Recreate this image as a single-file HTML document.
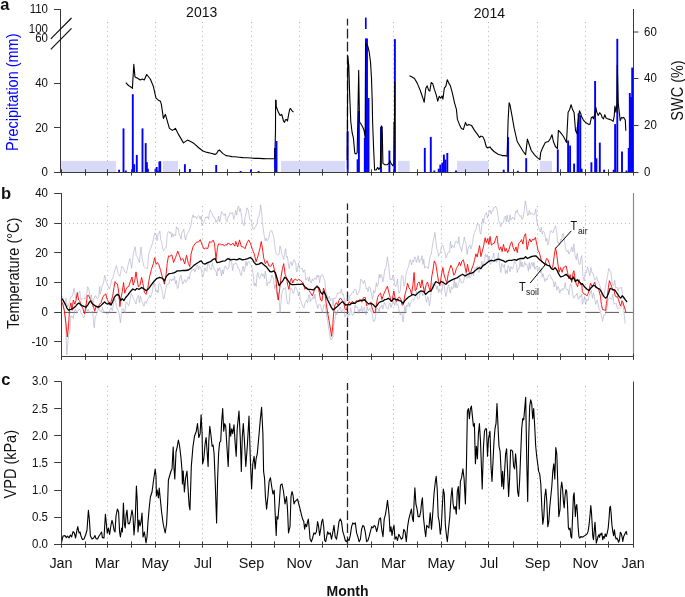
<!DOCTYPE html>
<html><head><meta charset="utf-8"><style>html,body{margin:0;padding:0;background:#fff;overflow:hidden}svg{display:block;will-change:transform}text{font-family:"Liberation Sans",sans-serif}</style></head>
<body><svg width="685" height="597" viewBox="0 0 685 597" font-family="Liberation Sans, sans-serif"><line x1="107.5" y1="22" x2="107.5" y2="172" stroke="#b4b2a2" stroke-width="1" stroke-dasharray="1 3.6"/><line x1="155.5" y1="22" x2="155.5" y2="172" stroke="#b4b2a2" stroke-width="1" stroke-dasharray="1 3.6"/><line x1="202.5" y1="22" x2="202.5" y2="172" stroke="#b4b2a2" stroke-width="1" stroke-dasharray="1 3.6"/><line x1="251.5" y1="22" x2="251.5" y2="172" stroke="#b4b2a2" stroke-width="1" stroke-dasharray="1 3.6"/><line x1="299.5" y1="22" x2="299.5" y2="172" stroke="#b4b2a2" stroke-width="1" stroke-dasharray="1 3.6"/><line x1="393.5" y1="22" x2="393.5" y2="172" stroke="#b4b2a2" stroke-width="1" stroke-dasharray="1 3.6"/><line x1="441.5" y1="22" x2="441.5" y2="172" stroke="#b4b2a2" stroke-width="1" stroke-dasharray="1 3.6"/><line x1="488.5" y1="22" x2="488.5" y2="172" stroke="#b4b2a2" stroke-width="1" stroke-dasharray="1 3.6"/><line x1="537.5" y1="22" x2="537.5" y2="172" stroke="#b4b2a2" stroke-width="1" stroke-dasharray="1 3.6"/><line x1="585.5" y1="22" x2="585.5" y2="172" stroke="#b4b2a2" stroke-width="1" stroke-dasharray="1 3.6"/><rect x="61" y="160.9" width="55.099999999999994" height="11.599999999999994" fill="#d8d8f9"/><rect x="163" y="160.9" width="15" height="11.599999999999994" fill="#d8d8f9"/><rect x="281" y="160.9" width="64.10000000000002" height="11.599999999999994" fill="#d8d8f9"/><rect x="398" y="160.9" width="11.699999999999989" height="11.599999999999994" fill="#d8d8f9"/><rect x="457" y="160.9" width="31.600000000000023" height="11.599999999999994" fill="#d8d8f9"/><rect x="539.9" y="160.9" width="12.100000000000023" height="11.599999999999994" fill="#d8d8f9"/><line x1="347.5" y1="18.8" x2="347.5" y2="172" stroke="#222" stroke-width="1.3" stroke-dasharray="9.6 3.4" stroke-dashoffset="3"/><line x1="119.1" y1="172.5" x2="119.1" y2="169.7" stroke="#0000ff" stroke-width="1.9"/><line x1="123.5" y1="172.5" x2="123.5" y2="128.4" stroke="#0000ff" stroke-width="1.9"/><line x1="125.8" y1="172.5" x2="125.8" y2="170.5" stroke="#0000ff" stroke-width="1.9"/><line x1="132.8" y1="172.5" x2="132.8" y2="94.2" stroke="#0000ff" stroke-width="1.9"/><line x1="134.2" y1="172.5" x2="134.2" y2="164.2" stroke="#0000ff" stroke-width="1.9"/><line x1="136.8" y1="172.5" x2="136.8" y2="155" stroke="#0000ff" stroke-width="1.9"/><line x1="142.5" y1="172.5" x2="142.5" y2="128.4" stroke="#0000ff" stroke-width="1.9"/><line x1="145.7" y1="172.5" x2="145.7" y2="143.1" stroke="#0000ff" stroke-width="1.9"/><line x1="146.9" y1="172.5" x2="146.9" y2="162.2" stroke="#0000ff" stroke-width="1.9"/><line x1="147.9" y1="172.5" x2="147.9" y2="168.7" stroke="#0000ff" stroke-width="1.9"/><line x1="155.5" y1="172.5" x2="155.5" y2="168.7" stroke="#0000ff" stroke-width="1.9"/><line x1="156.7" y1="172.5" x2="156.7" y2="167" stroke="#0000ff" stroke-width="1.9"/><line x1="157.7" y1="172.5" x2="157.7" y2="170.7" stroke="#0000ff" stroke-width="1.9"/><line x1="159.4" y1="172.5" x2="159.4" y2="161.6" stroke="#0000ff" stroke-width="1.9"/><line x1="160.2" y1="172.5" x2="160.2" y2="161.2" stroke="#0000ff" stroke-width="1.9"/><line x1="184.9" y1="172.5" x2="184.9" y2="164.2" stroke="#0000ff" stroke-width="1.9"/><line x1="189.9" y1="172.5" x2="189.9" y2="169" stroke="#0000ff" stroke-width="1.9"/><line x1="216.2" y1="172.5" x2="216.2" y2="165" stroke="#0000ff" stroke-width="1.9"/><line x1="240.6" y1="172.5" x2="240.6" y2="171" stroke="#0000ff" stroke-width="1.9"/><line x1="251" y1="172.5" x2="251" y2="169.6" stroke="#0000ff" stroke-width="1.9"/><line x1="258.6" y1="172.5" x2="258.6" y2="171" stroke="#0000ff" stroke-width="1.9"/><line x1="275" y1="172.5" x2="275" y2="148" stroke="#0000ff" stroke-width="1.9"/><line x1="276.5" y1="172.5" x2="276.5" y2="141" stroke="#0000ff" stroke-width="1.9"/><line x1="347.7" y1="172.5" x2="347.7" y2="131.2" stroke="#0000ff" stroke-width="1.9"/><line x1="357.6" y1="172.5" x2="357.6" y2="159.3" stroke="#0000ff" stroke-width="1.9"/><line x1="358.9" y1="172.5" x2="358.9" y2="111" stroke="#0000ff" stroke-width="1.9"/><line x1="364.8" y1="172.5" x2="364.8" y2="138" stroke="#0000ff" stroke-width="1.9"/><line x1="365.9" y1="172.5" x2="365.9" y2="38.5" stroke="#0000ff" stroke-width="1.9"/><line x1="367.0" y1="172.5" x2="367.0" y2="38.5" stroke="#0000ff" stroke-width="1.9"/><line x1="368.5" y1="172.5" x2="368.5" y2="98" stroke="#0000ff" stroke-width="1.9"/><line x1="381" y1="172.5" x2="381" y2="127" stroke="#0000ff" stroke-width="1.9"/><line x1="389.4" y1="172.5" x2="389.4" y2="150.6" stroke="#0000ff" stroke-width="1.9"/><line x1="394.4" y1="172.5" x2="394.4" y2="121.8" stroke="#0000ff" stroke-width="1.9"/><line x1="394.9" y1="172.5" x2="394.9" y2="39.1" stroke="#0000ff" stroke-width="1.9"/><line x1="424.8" y1="172.5" x2="424.8" y2="147.9" stroke="#0000ff" stroke-width="1.9"/><line x1="430.8" y1="172.5" x2="430.8" y2="136.9" stroke="#0000ff" stroke-width="1.9"/><line x1="434.3" y1="172.5" x2="434.3" y2="170.5" stroke="#0000ff" stroke-width="1.9"/><line x1="438.7" y1="172.5" x2="438.7" y2="168.7" stroke="#0000ff" stroke-width="1.9"/><line x1="440.3" y1="172.5" x2="440.3" y2="164.6" stroke="#0000ff" stroke-width="1.9"/><line x1="442.3" y1="172.5" x2="442.3" y2="162.6" stroke="#0000ff" stroke-width="1.9"/><line x1="443.9" y1="172.5" x2="443.9" y2="154.6" stroke="#0000ff" stroke-width="1.9"/><line x1="445.3" y1="172.5" x2="445.3" y2="159.6" stroke="#0000ff" stroke-width="1.9"/><line x1="447.3" y1="172.5" x2="447.3" y2="153" stroke="#0000ff" stroke-width="1.9"/><line x1="456" y1="172.5" x2="456" y2="170.5" stroke="#0000ff" stroke-width="1.9"/><line x1="503.7" y1="172.5" x2="503.7" y2="169.7" stroke="#0000ff" stroke-width="1.9"/><line x1="508.1" y1="172.5" x2="508.1" y2="137.1" stroke="#0000ff" stroke-width="1.9"/><line x1="517.8" y1="172.5" x2="517.8" y2="170.8" stroke="#0000ff" stroke-width="1.9"/><line x1="526.2" y1="172.5" x2="526.2" y2="158.2" stroke="#0000ff" stroke-width="1.9"/><line x1="557.8" y1="172.5" x2="557.8" y2="149.5" stroke="#0000ff" stroke-width="1.9"/><line x1="568.1" y1="172.5" x2="568.1" y2="140.5" stroke="#0000ff" stroke-width="1.9"/><line x1="570.1" y1="172.5" x2="570.1" y2="145.5" stroke="#0000ff" stroke-width="1.9"/><line x1="574.1" y1="172.5" x2="574.1" y2="163.6" stroke="#0000ff" stroke-width="1.9"/><line x1="577.6" y1="172.5" x2="577.6" y2="127" stroke="#0000ff" stroke-width="1.9"/><line x1="578.6" y1="172.5" x2="578.6" y2="113.3" stroke="#0000ff" stroke-width="1.9"/><line x1="580.3" y1="172.5" x2="580.3" y2="115.3" stroke="#0000ff" stroke-width="1.9"/><line x1="581.6" y1="172.5" x2="581.6" y2="168.7" stroke="#0000ff" stroke-width="1.9"/><line x1="591.4" y1="172.5" x2="591.4" y2="162.3" stroke="#0000ff" stroke-width="1.9"/><line x1="595.1" y1="172.5" x2="595.1" y2="81" stroke="#0000ff" stroke-width="1.9"/><line x1="596.4" y1="172.5" x2="596.4" y2="158.3" stroke="#0000ff" stroke-width="1.9"/><line x1="599.8" y1="172.5" x2="599.8" y2="142.6" stroke="#0000ff" stroke-width="1.9"/><line x1="604.1" y1="172.5" x2="604.1" y2="169.7" stroke="#0000ff" stroke-width="1.9"/><line x1="613.7" y1="172.5" x2="613.7" y2="169.7" stroke="#0000ff" stroke-width="1.9"/><line x1="615.1" y1="172.5" x2="615.1" y2="124.1" stroke="#0000ff" stroke-width="1.9"/><line x1="617.3" y1="172.5" x2="617.3" y2="38.8" stroke="#0000ff" stroke-width="1.9"/><line x1="622" y1="172.5" x2="622" y2="151.6" stroke="#0000ff" stroke-width="1.9"/><line x1="626.5" y1="172.5" x2="626.5" y2="170.5" stroke="#0000ff" stroke-width="1.9"/><line x1="628.7" y1="172.5" x2="628.7" y2="148" stroke="#0000ff" stroke-width="1.9"/><line x1="629.8" y1="172.5" x2="629.8" y2="93" stroke="#0000ff" stroke-width="1.9"/><line x1="631.0" y1="172.5" x2="631.0" y2="97" stroke="#0000ff" stroke-width="1.9"/><line x1="632.2" y1="172.5" x2="632.2" y2="67.6" stroke="#0000ff" stroke-width="1.9"/><line x1="365.8" y1="17.6" x2="365.8" y2="29.0" stroke="#0000ff" stroke-width="1.7"/><polyline points="125.8,82.7 128.5,85.5 131.2,87.2 132.4,88.4 133.8,64.4 135.0,77.0 137.2,78.0 140.2,80.0 142.3,79.0 144.3,80.0 146.7,74.5 150.3,79.0 153.3,86.2 156.0,98.2 158.4,100.2 160.4,101.2 161.4,104.7 163.4,118.4 165.4,114.3 169.4,128.4 172.4,130.4 175.5,128.4 178.5,134.4 183.5,142.9 187.5,140.1 192.6,142.5 195.0,144.4 199.0,148.0 203.0,151.0 207.0,152.4 211.0,153.2 215.0,154.4 216.6,153.6 218.0,151.0 219.4,150.0 221.0,151.6 223.0,153.6 226.0,155.6 229.0,156.0 232.0,156.6 235.0,156.8 239.0,157.2 243.0,157.6 247.0,157.8 251.0,158.0 255.0,158.4 259.0,158.4 263.0,158.6 267.0,158.8 271.0,158.8 274.8,158.8 275.5,130.0 275.6,100.1 276.1,100.5 276.3,106.8 277.6,110.2 278.8,113.1 280.1,115.6 281.6,114.3 282.2,116.0 283.5,121.0 284.5,122.3 285.5,119.8 286.6,119.4 287.5,121.0 288.5,115.2 289.7,109.3 290.6,108.5 291.8,110.6 293.5,112.2" fill="none" stroke="#000" stroke-width="1.1" stroke-linejoin="round"/><polyline points="347.2,160.0 347.8,56.0 348.8,66.0 349.7,95.4 350.8,121.8 352.1,132.5 353.4,137.9 354.8,153.3 356.1,154.0 357.2,152.6 358.7,70.3 359.5,121.8 361.0,124.0 362.8,127.2 364.0,130.0 365.2,137.9 365.6,43.7 367.8,46.2 369.2,52.0 370.5,62.0 371.5,78.4 372.2,100.0 372.6,121.8 373.6,148.6 374.6,170.0 376.2,170.0 377.6,167.4 378.9,169.4 380.3,167.4 381.3,125.8 382.2,127.0 382.9,163.4 385.0,164.7 387.0,164.7 389.0,163.4 389.9,160.7 391.0,163.4 393.0,166.0 393.9,162.0 394.5,121.8 394.8,82.0" fill="none" stroke="#000" stroke-width="1.1" stroke-linejoin="round"/><polyline points="409.5,75.7 412.1,77.1 414.5,78.5 417.2,83.1 420.2,90.2 422.6,97.2 424.2,102.3 425.8,88.2 427.2,85.8 428.6,90.2 429.8,91.2 431.2,82.5 432.7,83.7 434.3,89.2 436.3,95.2 437.7,101.2 439.3,96.2 440.7,98.2 442.0,96.0 442.9,99.2 444.3,88.2 445.9,86.2 447.3,79.7 448.8,83.1 450.4,85.8 452.4,93.2 454.4,102.3 456.4,109.3 457.4,119.4 459.4,124.4 461.4,128.4 463.4,129.4 465.5,122.4 466.9,125.4 468.9,124.4 471.5,125.4 474.5,130.4 477.5,134.4 479.5,137.5 480.9,136.1 483.0,136.9 484.6,140.5 486.2,146.5 487.6,148.0 490.0,146.9 491.0,148.5 494.0,151.5 498.1,154.2 502.1,155.6 505.1,155.6 507.1,156.2 508.1,120.4 509.1,102.7 510.1,105.3 512.1,116.3 514.2,128.4 517.2,141.5 520.2,146.5 523.2,151.5 525.6,154.6 527.4,139.1 529.2,144.5 531.3,150.5 534.3,154.6 537.3,157.6 539.9,159.6 540.7,152.6 542.3,148.5 545.3,142.5 548.4,141.5 550.4,138.5 552.0,134.8 553.4,141.5 555.4,146.5 557.4,148.5 558.4,130.4 560.4,132.4 563.5,136.5 566.5,142.5 568.1,112.3 569.5,110.0 571.1,104.7 572.5,109.3 574.1,112.7 575.5,130.4 576.9,133.4 578.1,120.4 579.5,110.7 581.0,114.3 581.3,116.1 583.4,120.1 586.0,122.8 588.7,124.4 590.0,124.1 591.4,117.4 592.7,116.8 593.4,118.8 594.7,114.7 595.8,107.4 596.8,112.1 598.1,115.4 599.8,112.7 601.2,114.7 602.1,117.4 603.5,118.8 604.8,114.7 606.1,118.1 607.5,118.8 609.5,119.4 611.5,120.1 613.2,121.4 614.2,116.1 614.9,106.0 615.9,112.1 616.9,104.0 617.3,65.0 618.2,102.7 619.1,110.7 620.2,120.8 621.6,117.4 622.6,118.1 623.6,117.4 624.5,118.8 625.3,120.1 625.8,130.8" fill="none" stroke="#000" stroke-width="1.1" stroke-linejoin="round"/><line x1="60.5" y1="9" x2="60.5" y2="172.5" stroke="#3a3a3a" stroke-width="1"/><line x1="54" y1="172.5" x2="638.5" y2="172.5" stroke="#3a3a3a" stroke-width="1"/><line x1="633.5" y1="9" x2="633.5" y2="172.5" stroke="#3a3a3a" stroke-width="1"/><line x1="54" y1="9.5" x2="60.5" y2="9.5" stroke="#3a3a3a" stroke-width="1"/><line x1="54" y1="83.5" x2="60.5" y2="83.5" stroke="#3a3a3a" stroke-width="1"/><line x1="54" y1="127.5" x2="60.5" y2="127.5" stroke="#3a3a3a" stroke-width="1"/><line x1="633.5" y1="32.0" x2="638.5" y2="32.0" stroke="#3a3a3a" stroke-width="1"/><line x1="633.5" y1="78.5" x2="638.5" y2="78.5" stroke="#3a3a3a" stroke-width="1"/><line x1="633.5" y1="125.5" x2="638.5" y2="125.5" stroke="#3a3a3a" stroke-width="1"/><line x1="61.5" y1="169.3" x2="61.5" y2="175.6" stroke="#3a3a3a" stroke-width="1"/><line x1="85.5" y1="169.3" x2="85.5" y2="175.6" stroke="#3a3a3a" stroke-width="1"/><line x1="107.5" y1="169.3" x2="107.5" y2="175.6" stroke="#3a3a3a" stroke-width="1"/><line x1="131.5" y1="169.3" x2="131.5" y2="175.6" stroke="#3a3a3a" stroke-width="1"/><line x1="155.5" y1="169.3" x2="155.5" y2="175.6" stroke="#3a3a3a" stroke-width="1"/><line x1="179.5" y1="169.3" x2="179.5" y2="175.6" stroke="#3a3a3a" stroke-width="1"/><line x1="202.5" y1="169.3" x2="202.5" y2="175.6" stroke="#3a3a3a" stroke-width="1"/><line x1="227.5" y1="169.3" x2="227.5" y2="175.6" stroke="#3a3a3a" stroke-width="1"/><line x1="251.5" y1="169.3" x2="251.5" y2="175.6" stroke="#3a3a3a" stroke-width="1"/><line x1="274.5" y1="169.3" x2="274.5" y2="175.6" stroke="#3a3a3a" stroke-width="1"/><line x1="299.5" y1="169.3" x2="299.5" y2="175.6" stroke="#3a3a3a" stroke-width="1"/><line x1="322.5" y1="169.3" x2="322.5" y2="175.6" stroke="#3a3a3a" stroke-width="1"/><line x1="347.5" y1="169.3" x2="347.5" y2="175.6" stroke="#3a3a3a" stroke-width="1"/><line x1="371.5" y1="169.3" x2="371.5" y2="175.6" stroke="#3a3a3a" stroke-width="1"/><line x1="393.5" y1="169.3" x2="393.5" y2="175.6" stroke="#3a3a3a" stroke-width="1"/><line x1="417.5" y1="169.3" x2="417.5" y2="175.6" stroke="#3a3a3a" stroke-width="1"/><line x1="441.5" y1="169.3" x2="441.5" y2="175.6" stroke="#3a3a3a" stroke-width="1"/><line x1="465.5" y1="169.3" x2="465.5" y2="175.6" stroke="#3a3a3a" stroke-width="1"/><line x1="488.5" y1="169.3" x2="488.5" y2="175.6" stroke="#3a3a3a" stroke-width="1"/><line x1="513.5" y1="169.3" x2="513.5" y2="175.6" stroke="#3a3a3a" stroke-width="1"/><line x1="537.5" y1="169.3" x2="537.5" y2="175.6" stroke="#3a3a3a" stroke-width="1"/><line x1="560.5" y1="169.3" x2="560.5" y2="175.6" stroke="#3a3a3a" stroke-width="1"/><line x1="585.5" y1="169.3" x2="585.5" y2="175.6" stroke="#3a3a3a" stroke-width="1"/><line x1="608.5" y1="169.3" x2="608.5" y2="175.6" stroke="#3a3a3a" stroke-width="1"/><line x1="633.5" y1="169.3" x2="633.5" y2="175.6" stroke="#3a3a3a" stroke-width="1"/><line x1="50.8" y1="38.9" x2="71.5" y2="18" stroke="#111" stroke-width="1.2"/><line x1="50.8" y1="49.4" x2="71.5" y2="28.4" stroke="#111" stroke-width="1.2"/><text transform="translate(48.00,13.00) scale(1.0,1.06)" font-size="11.5" text-anchor="end" fill="#111">110</text><text transform="translate(48.00,32.70) scale(1.0,1.06)" font-size="11.5" text-anchor="end" fill="#111">100</text><text transform="translate(48.00,42.30) scale(1.0,1.06)" font-size="11.5" text-anchor="end" fill="#111">60</text><text transform="translate(48.00,87.10) scale(1.0,1.06)" font-size="11.5" text-anchor="end" fill="#111">40</text><text transform="translate(48.00,131.70) scale(1.0,1.06)" font-size="11.5" text-anchor="end" fill="#111">20</text><text transform="translate(48.00,176.30) scale(1.0,1.06)" font-size="11.5" text-anchor="end" fill="#111">0</text><text transform="translate(644.00,35.60) scale(1.0,1.06)" font-size="11.5" text-anchor="start" fill="#111">60</text><text transform="translate(644.00,82.40) scale(1.0,1.06)" font-size="11.5" text-anchor="start" fill="#111">40</text><text transform="translate(644.00,129.20) scale(1.0,1.06)" font-size="11.5" text-anchor="start" fill="#111">20</text><text transform="translate(644.00,176.00) scale(1.0,1.06)" font-size="11.5" text-anchor="start" fill="#111">0</text><text x="201.7" y="17" font-size="14" text-anchor="middle" fill="#111">2013</text><text x="489.4" y="18" font-size="14" text-anchor="middle" fill="#111">2014</text><text transform="translate(17.60,92.25) rotate(-90) scale(1.0,1.12)" font-size="14.5" text-anchor="middle" fill="#0000ff">Precipitation (mm)</text><text transform="translate(683.00,90.50) rotate(-90) scale(1.0,1.12)" font-size="14.5" text-anchor="middle" fill="#111">SWC (%)</text><text transform="translate(0.20,9.70)" font-size="16.5" text-anchor="start" fill="#111" font-weight="bold">a</text><line x1="107.5" y1="206" x2="107.5" y2="357" stroke="#b4b2a2" stroke-width="1" stroke-dasharray="1 3.6"/><line x1="155.5" y1="206" x2="155.5" y2="357" stroke="#b4b2a2" stroke-width="1" stroke-dasharray="1 3.6"/><line x1="202.5" y1="206" x2="202.5" y2="357" stroke="#b4b2a2" stroke-width="1" stroke-dasharray="1 3.6"/><line x1="251.5" y1="206" x2="251.5" y2="357" stroke="#b4b2a2" stroke-width="1" stroke-dasharray="1 3.6"/><line x1="299.5" y1="206" x2="299.5" y2="357" stroke="#b4b2a2" stroke-width="1" stroke-dasharray="1 3.6"/><line x1="393.5" y1="206" x2="393.5" y2="357" stroke="#b4b2a2" stroke-width="1" stroke-dasharray="1 3.6"/><line x1="441.5" y1="206" x2="441.5" y2="357" stroke="#b4b2a2" stroke-width="1" stroke-dasharray="1 3.6"/><line x1="488.5" y1="206" x2="488.5" y2="357" stroke="#b4b2a2" stroke-width="1" stroke-dasharray="1 3.6"/><line x1="537.5" y1="206" x2="537.5" y2="357" stroke="#b4b2a2" stroke-width="1" stroke-dasharray="1 3.6"/><line x1="585.5" y1="206" x2="585.5" y2="357" stroke="#b4b2a2" stroke-width="1" stroke-dasharray="1 3.6"/><line x1="61" y1="223.3" x2="633" y2="223.3" stroke="#b4b2a2" stroke-width="1" stroke-dasharray="1 3"/><line x1="347.5" y1="203.4" x2="347.5" y2="357" stroke="#222" stroke-width="1.3" stroke-dasharray="9.6 3.4" stroke-dashoffset="3"/><line x1="61.3" y1="312.4" x2="633" y2="312.4" stroke="#555" stroke-width="1" stroke-dasharray="14 5.33" stroke-dashoffset="-2.5"/><polyline points="61.2,295.0 62.8,297.4 64.4,305.2 66.0,298.3 67.6,307.3 69.3,302.6 70.9,296.6 72.5,295.8 74.1,288.4 75.7,298.4 77.3,296.7 78.5,292.5 79.7,291.1 80.9,299.9 82.1,298.8 83.7,298.1 85.3,298.5 86.5,295.8 87.7,286.8 88.9,289.2 90.2,298.4 91.4,294.9 92.6,307.0 93.8,299.5 95.0,295.8 96.2,296.3 97.4,298.9 98.6,297.8 99.8,286.5 100.0,294.0 101.2,291.0 102.3,285.1 103.5,283.2 104.7,275.3 106.4,282.3 108.2,286.0 109.4,289.1 110.6,285.6 111.7,279.9 112.9,277.7 114.7,270.6 116.4,265.7 118.2,273.7 119.9,276.3 121.7,266.4 122.9,267.0 124.6,271.3 126.4,273.2 128.1,264.9 129.9,258.6 131.7,268.3 133.4,253.5 135.2,246.8 136.3,255.8 137.5,257.3 139.3,262.7 141.0,247.0 142.2,258.5 144.0,266.4 145.7,268.2 147.5,268.5 148.7,254.1 149.8,250.5 151.6,246.1 153.3,240.1 154.5,233.1 156.3,234.2 157.0,240.8 158.0,234.3 158.9,233.7 159.8,231.0 160.7,239.6 161.7,241.8 162.6,248.6 163.5,250.8 164.4,249.6 165.3,247.8 166.3,247.6 167.2,234.8 168.1,231.9 169.0,231.5 169.9,233.4 170.9,231.9 171.8,237.4 172.7,233.5 173.6,236.4 174.5,234.5 175.5,235.6 176.4,226.9 177.3,228.7 178.2,228.1 179.1,233.8 180.1,236.0 181.0,239.2 181.9,232.1 182.8,231.5 183.8,229.1 184.7,236.6 185.6,240.0 186.5,235.5 187.4,233.6 188.4,232.0 189.3,229.8 190.2,228.1 191.1,225.1 192.0,218.1 193.0,214.9 193.9,217.7 194.8,216.3 195.7,216.7 196.6,218.8 197.6,216.8 198.5,215.5 199.4,216.7 200.3,219.4 201.2,215.9 202.2,225.7 203.1,222.8 204.0,221.8 204.9,219.3 205.9,216.8 206.8,218.1 207.7,216.7 208.6,219.3 209.5,212.0 210.5,209.9 211.4,212.7 212.3,213.8 213.2,217.0 214.1,216.8 215.1,218.8 216.0,222.6 216.9,220.4 217.8,220.9 218.7,216.0 219.7,221.8 220.6,217.6 221.5,211.6 222.4,213.1 223.3,214.6 224.3,215.4 225.2,213.5 226.1,220.3 227.0,221.9 228.0,216.9 228.9,216.7 229.8,212.8 230.7,212.4 231.6,213.9 232.6,212.6 233.7,219.5 234.8,215.4 235.7,210.4 236.7,215.1 237.7,207.6 238.6,206.0 239.5,211.4 240.4,208.6 241.4,215.0 242.3,222.1 243.2,224.1 244.1,225.7 245.0,217.4 246.0,214.0 246.9,207.8 247.8,208.9 248.7,212.0 249.7,219.4 250.6,220.6 251.5,220.5 252.4,226.7 253.3,229.2 254.3,229.0 255.2,227.2 256.1,225.9 257.0,223.8 257.9,217.8 258.9,216.7 259.8,211.6 260.7,205.0 261.6,212.9 262.5,223.2 263.5,231.0 264.4,236.7 265.3,240.9 266.2,238.2 267.1,240.8 268.1,239.4 269.0,237.2 269.9,231.9 270.8,230.6 271.8,230.7 272.7,233.5 273.6,236.6 274.5,243.5 275.4,250.3 276.4,254.0 277.3,255.1 278.2,254.8 279.1,254.3 280.0,246.0 281.0,249.3 281.9,254.6 282.8,256.6 283.7,259.3 284.6,254.1 285.6,248.7 286.5,257.4 287.4,256.5 288.3,263.9 289.2,268.7 290.2,262.6 291.1,261.7 292.0,265.7 292.9,262.8 293.9,259.6 294.8,261.1 295.7,263.2 296.6,271.8 297.5,270.0 298.5,263.1 299.4,268.3 300.3,268.8 301.2,268.3 302.1,268.0 303.1,272.3 304.0,269.9 304.9,270.2 305.8,280.2 306.7,278.7 307.7,277.6 308.6,281.3 309.5,276.8 310.4,282.1 311.3,283.0 312.3,278.9 313.2,280.6 314.1,279.6 315.0,277.8 316.0,279.5 316.9,275.2 317.8,277.2 318.7,275.3 319.6,282.9 320.6,276.0 321.5,275.1 322.4,274.4 323.8,278.5 324.8,280.1 325.7,290.6 326.6,292.4 327.5,298.2 328.4,299.3 329.4,296.0 330.3,301.0 331.2,299.3 332.1,298.3 333.0,306.1 334.0,298.0 334.9,298.3 335.8,298.1 336.7,295.6 337.7,292.6 338.6,293.4 339.5,292.4 340.4,293.1 341.3,288.8 342.3,294.7 343.2,293.8 344.1,297.7 345.0,305.9 345.9,300.7 346.9,298.4 347.8,299.6 348.7,300.4 349.6,295.5 350.5,295.8 351.5,293.6 352.4,292.5 353.3,292.9 354.2,289.5 355.1,289.0 356.1,289.7 357.0,295.1 357.9,294.2 358.8,292.1 359.8,289.0 360.7,279.1 361.6,280.0 362.5,281.6 363.4,283.8 364.4,280.5 365.3,283.4 366.2,288.8 367.1,287.9 368.0,291.9 369.1,286.7 370.3,288.4 371.4,294.0 372.6,299.6 373.6,290.5 374.5,293.1 375.4,290.1 376.3,282.7 377.2,286.6 378.2,284.3 379.1,274.5 380.0,278.0 380.9,274.3 381.9,276.3 382.8,282.0 383.7,278.2 384.6,269.7 385.5,269.6 386.5,264.4 387.4,256.8 388.3,262.5 389.2,270.5 390.1,279.6 391.1,278.8 392.0,280.0 392.9,275.2 393.8,277.0 394.7,285.3 395.7,286.7 396.6,284.5 397.5,279.2 398.4,291.2 399.3,293.1 400.3,290.5 401.2,278.4 402.1,275.5 403.0,276.5 404.0,286.3 404.9,284.8 405.8,276.1 406.7,271.4 407.6,268.4 408.6,267.0 409.5,261.3 410.4,259.7 411.6,264.9 412.8,260.1 413.7,261.9 414.6,257.0 415.5,257.3 416.4,262.4 417.4,259.4 418.3,255.6 419.2,262.8 420.1,259.4 421.0,260.3 422.0,255.7 422.9,264.5 423.8,259.2 424.7,268.2 425.7,266.4 426.6,267.2 427.5,267.3 428.4,268.8 429.3,261.1 430.3,255.5 431.2,254.8 432.1,247.9 433.0,242.1 433.9,238.0 434.9,232.4 435.8,240.7 436.7,248.6 437.6,250.3 438.5,256.3 439.5,253.9 440.4,252.7 441.3,246.7 442.2,245.2 443.1,245.3 444.1,250.5 445.0,251.4 445.9,257.9 446.8,256.2 447.8,253.0 448.7,251.9 449.6,252.3 450.5,241.2 451.4,248.2 452.4,245.3 453.3,246.5 454.2,247.7 455.1,241.9 456.0,241.1 457.0,241.8 457.9,243.5 458.8,236.9 459.7,245.3 460.6,248.1 461.6,251.5 462.5,246.3 463.4,242.7 464.3,237.0 465.2,241.4 466.2,244.5 467.1,254.3 468.0,248.7 468.9,246.6 469.9,244.7 470.8,249.0 471.7,246.8 472.6,242.6 473.5,236.0 474.5,232.6 475.4,230.0 476.3,229.0 477.2,223.8 478.1,224.0 479.1,224.2 480.0,232.3 480.9,234.2 481.8,225.8 482.7,218.5 483.7,223.1 484.6,215.4 485.5,214.0 486.4,212.6 487.3,217.9 488.3,215.0 489.2,211.6 490.1,210.1 491.0,214.1 492.0,210.8 492.9,211.0 493.8,207.3 494.7,207.9 495.6,206.2 496.6,207.6 497.5,211.7 498.0,216.5 498.9,221.6 499.8,222.9 500.8,226.7 501.7,224.0 502.6,222.7 503.5,222.4 504.4,217.3 505.4,216.1 506.3,221.5 507.2,215.2 508.1,221.6 509.0,222.1 510.0,214.8 510.9,220.1 511.8,218.8 512.7,217.0 513.7,218.6 514.6,219.9 515.5,211.4 516.4,212.4 517.3,209.8 518.3,214.0 519.2,214.9 520.1,216.4 521.0,215.4 521.9,219.4 522.9,218.7 524.1,211.9 525.3,200.9 526.4,206.9 527.5,215.6 528.4,215.2 529.3,210.5 530.2,214.6 531.1,212.7 532.1,214.0 533.0,214.6 533.9,215.0 534.8,213.3 535.8,208.9 536.7,220.7 537.6,224.9 538.5,226.3 539.4,230.3 540.4,232.0 541.3,227.3 542.2,234.0 543.1,231.4 544.0,231.7 545.0,235.2 545.9,241.3 546.8,238.4 547.7,245.0 548.6,243.5 549.6,235.5 550.5,230.8 551.4,231.0 552.3,232.3 553.2,232.4 554.4,228.3 555.5,225.8 556.7,231.7 557.9,243.4 558.8,242.5 559.7,245.1 560.6,239.3 561.5,240.4 562.5,234.2 563.4,233.4 564.3,239.0 565.2,246.3 566.1,250.1 567.1,251.8 568.0,250.2 568.9,254.1 569.8,252.4 570.7,251.2 571.7,246.8 572.8,251.9 573.9,243.9 575.1,255.5 576.3,259.7 577.2,253.3 578.1,259.1 579.0,264.2 580.0,264.3 580.9,258.4 581.8,255.5 583.0,276.6 584.1,281.0 585.3,272.1 586.4,273.2 587.5,266.9 588.7,271.1 589.8,275.7 590.9,267.6 592.1,273.0 593.2,273.3 594.3,279.7 595.5,279.5 596.6,276.8 598.1,281.3 599.6,285.1 600.7,288.5 601.9,295.9 603.0,297.2 604.1,293.9 605.3,288.0 606.4,282.0 607.5,276.3 608.7,268.5 609.9,271.0 610.9,271.7 612.4,284.5 613.6,286.0 614.7,280.3 615.8,288.3 617.0,287.2 618.1,291.1 619.2,287.9 620.3,287.9 621.5,287.3 623.0,298.8 624.1,298.1 625.2,299.1 626.8,303.3" fill="none" stroke="#a8a8c8" stroke-width="0.6" stroke-opacity="1" stroke-linejoin="round"/><polyline points="61.2,299.1 62.8,305.0 64.4,309.4 65.7,325.9 66.8,355.0 68.5,335.6 69.7,331.8 70.9,316.0 72.1,316.2 73.3,318.4 74.5,311.5 75.7,309.1 76.8,313.3 77.8,311.5 78.9,309.8 80.0,309.3 81.0,312.9 82.1,314.2 83.7,317.9 84.9,315.0 86.1,304.6 87.2,311.3 88.3,309.3 89.4,312.5 90.4,313.1 91.5,311.5 92.6,311.0 94.2,327.7 95.4,316.1 96.6,314.8 97.8,311.2 99.0,308.4 100.2,311.2 101.4,312.1 102.5,307.5 103.6,313.0 104.6,311.7 106.2,314.0 107.4,314.1 108.6,313.7 109.8,310.4 111.1,307.6 112.3,310.7 113.5,303.8 114.7,298.9 115.9,302.6 117.1,309.1 118.3,309.8 119.3,314.6 120.4,322.7 121.3,314.2 122.3,308.8 123.5,309.0 124.7,312.7 126.3,301.6 127.5,303.6 128.7,305.7 129.9,300.4 131.2,293.4 132.4,295.8 133.6,299.2 134.8,301.1 136.0,304.0 137.2,297.4 138.4,295.4 139.5,302.7 140.5,296.1 141.6,300.6 142.8,303.0 144.0,306.3 145.1,301.6 146.1,303.3 147.8,299.0 148.8,297.6 149.7,295.3 150.6,297.4 151.5,294.0 152.4,291.8 153.4,283.5 154.3,283.0 155.2,288.4 156.1,292.0 157.0,290.0 158.0,292.9 158.9,283.9 159.8,283.7 160.7,284.9 161.7,288.6 162.6,293.4 163.5,299.1 164.4,297.2 165.3,291.0 166.3,286.5 167.2,284.9 168.1,283.9 169.0,283.8 169.9,279.3 170.9,279.3 171.8,281.0 172.7,278.8 173.6,280.3 174.5,276.3 175.5,283.6 176.4,280.5 177.3,288.5 178.2,287.9 179.1,281.7 180.1,277.1 181.0,275.1 181.9,281.0 182.8,284.0 183.8,281.2 184.7,279.6 185.6,282.5 186.5,281.8 187.4,279.1 188.4,276.7 189.3,279.2 190.2,272.9 191.1,271.9 192.0,269.6 193.0,270.4 193.9,268.8 194.8,272.2 195.7,269.8 196.6,266.2 197.6,264.9 198.5,270.0 199.4,266.3 200.3,267.0 201.2,268.7 202.2,277.3 203.1,276.5 204.0,271.7 204.9,267.8 205.9,270.3 206.8,271.4 207.7,263.8 208.6,263.3 209.5,267.3 210.5,269.3 211.4,269.5 212.3,263.0 213.2,266.2 214.1,269.1 215.1,270.3 216.0,271.0 216.9,276.1 217.8,268.3 218.7,271.0 219.7,267.6 220.6,269.3 221.5,276.0 222.4,270.0 223.3,274.0 224.3,268.1 225.2,265.9 226.1,266.9 227.0,269.2 228.0,268.4 228.9,267.9 229.8,257.6 230.7,261.7 231.6,261.9 232.6,270.6 233.7,264.0 234.8,264.1 235.7,262.6 236.7,264.1 237.7,267.1 238.6,269.1 239.5,269.8 240.4,274.2 241.4,275.7 242.3,268.9 243.2,266.2 244.1,271.6 245.0,268.5 246.0,261.2 246.9,265.9 247.8,262.4 248.7,261.5 249.7,263.4 250.6,264.2 251.5,265.0 252.4,269.8 253.3,275.4 254.3,285.7 255.2,283.2 256.1,286.4 257.0,275.3 257.9,272.4 258.9,277.5 259.8,278.4 260.7,275.8 261.6,273.3 262.5,276.2 263.5,274.4 264.4,278.4 265.3,270.9 266.2,276.7 267.1,285.8 268.1,282.3 269.0,282.7 269.9,283.2 270.8,279.7 271.8,275.1 272.7,276.8 273.6,278.9 274.5,288.5 275.4,284.8 276.4,291.5 277.3,295.2 278.2,292.5 279.1,299.2 280.0,312.8 281.0,303.0 281.9,293.0 282.8,290.3 283.7,288.0 284.6,288.8 285.6,287.6 286.5,298.1 287.4,303.2 288.3,304.3 289.2,302.8 290.2,290.3 291.1,287.8 292.0,289.6 292.9,293.4 293.9,292.9 294.8,287.4 295.7,287.1 296.6,289.6 297.5,291.1 298.5,295.9 299.4,291.7 300.3,299.7 301.2,301.6 302.1,304.8 303.1,306.8 304.0,307.8 304.9,303.4 305.8,301.5 306.7,300.0 307.7,302.6 308.6,295.0 309.5,294.9 310.4,301.7 311.3,299.0 312.3,299.2 313.2,296.5 314.1,298.7 315.0,294.2 316.0,302.8 316.9,304.7 317.8,308.4 318.7,304.7 319.6,304.0 320.6,305.0 321.5,309.6 322.4,312.4 323.8,304.8 324.8,304.7 325.7,308.2 326.6,314.9 327.5,320.3 328.4,325.9 329.6,334.2 330.8,339.9 332.1,338.7 333.0,336.9 334.0,323.7 334.9,319.7 335.8,311.5 336.7,314.8 337.7,309.9 338.6,310.3 339.5,309.1 340.4,307.0 341.3,312.4 342.3,310.3 343.2,308.6 344.1,309.8 345.0,317.0 345.9,314.5 346.9,313.9 347.8,317.2 348.7,314.0 349.6,315.2 350.5,307.8 351.5,311.8 352.4,315.5 353.3,314.5 354.2,313.9 355.1,304.8 356.1,307.7 357.0,306.7 357.9,308.0 358.8,313.8 359.8,309.1 360.7,311.0 361.6,306.6 362.5,311.6 363.4,308.5 364.4,307.4 365.3,312.7 366.2,314.8 367.1,306.6 368.0,310.4 369.0,310.0 369.9,308.2 370.8,311.4 371.7,311.2 372.6,316.4 373.6,321.5 374.5,320.9 375.4,317.7 376.3,311.8 377.2,308.2 378.2,309.2 379.1,311.8 380.0,306.7 380.9,307.2 381.9,305.0 382.8,309.1 383.7,305.7 384.6,302.5 385.5,304.1 386.5,308.0 387.4,308.8 388.3,309.0 389.2,303.4 390.1,303.4 391.1,307.6 392.0,304.4 392.9,302.1 393.8,301.1 394.7,305.6 395.7,301.1 396.6,304.6 397.5,304.0 398.4,306.3 399.3,312.2 400.3,315.2 401.2,312.6 402.1,314.2 403.0,322.0 404.0,312.7 404.9,306.3 405.8,311.9 406.7,305.2 407.6,306.3 408.6,302.6 409.5,306.9 410.4,303.1 411.6,300.5 412.8,299.3 413.7,300.4 414.6,297.6 415.5,296.3 416.4,291.4 417.4,298.6 418.3,298.8 419.2,298.2 420.1,293.1 421.0,292.5 422.0,293.4 422.9,295.8 423.8,287.2 424.7,293.1 425.7,298.4 426.6,302.3 427.5,296.6 428.4,297.2 429.3,305.8 430.3,301.2 431.2,291.8 432.1,283.1 433.0,289.1 433.9,282.4 434.9,285.2 435.8,285.1 436.7,289.4 437.6,285.9 438.5,292.7 439.5,288.9 440.4,291.7 441.3,292.7 442.2,289.4 443.1,280.5 444.1,285.2 445.0,291.1 445.9,296.5 446.8,292.2 447.8,286.8 448.7,284.8 449.6,290.3 450.5,293.1 451.4,286.6 452.4,288.9 453.3,288.2 454.2,279.2 455.1,287.7 456.0,282.4 457.0,288.0 457.9,285.1 458.8,283.3 459.7,278.0 460.6,280.2 461.6,282.9 462.5,282.7 463.4,282.4 464.3,278.0 465.2,275.5 466.2,272.4 467.1,278.3 468.0,277.8 468.9,274.3 469.9,277.8 470.8,276.7 471.7,274.4 472.6,272.5 473.5,275.8 474.5,270.0 475.4,267.8 476.3,268.0 477.2,266.2 478.1,270.6 479.1,272.4 480.0,265.8 480.9,268.7 481.8,261.2 482.7,265.2 483.7,263.8 484.6,259.6 485.5,254.2 486.4,257.0 487.3,254.7 488.3,261.7 489.2,256.2 490.1,264.5 491.0,263.3 492.0,258.5 492.9,256.8 493.8,253.0 494.7,262.0 495.6,259.4 496.6,262.3 497.5,260.7 498.4,252.8 499.6,264.8 500.8,272.5 501.7,263.5 502.6,264.9 503.5,267.3 504.4,264.4 505.4,273.5 506.3,270.3 507.2,273.3 508.1,265.5 509.0,266.8 510.0,271.8 510.9,266.7 511.8,268.4 512.7,268.7 513.7,265.2 514.6,260.8 515.5,263.3 516.4,264.4 517.3,272.6 518.3,268.4 519.2,268.5 520.1,260.2 521.0,266.9 521.9,262.1 522.9,267.1 523.8,266.2 524.7,261.9 525.6,264.7 526.5,263.9 527.5,266.3 528.4,271.2 529.3,262.7 530.2,269.1 531.1,264.3 532.1,262.6 533.0,266.7 533.9,262.4 534.8,269.4 535.8,266.9 536.7,266.2 537.6,271.0 538.5,268.8 539.4,267.0 540.4,272.7 541.3,268.3 542.2,277.1 543.1,273.8 544.0,277.9 545.0,281.6 545.9,278.6 546.8,280.0 547.7,277.4 548.6,275.2 549.6,274.9 550.5,275.3 551.4,278.9 552.3,279.1 553.2,281.7 554.2,287.0 555.1,281.9 556.0,284.6 556.9,290.3 557.9,286.5 558.8,288.1 559.7,293.1 560.6,289.7 561.5,290.7 562.5,288.3 563.4,289.7 564.3,287.9 565.2,282.6 566.1,288.8 567.1,289.9 568.0,289.3 568.9,294.7 569.8,286.6 570.7,283.9 571.7,285.9 572.6,293.2 573.5,297.8 574.4,297.9 575.3,295.4 576.3,295.1 577.2,293.1 578.1,299.1 579.0,298.7 580.0,295.6 580.9,297.0 581.8,293.9 582.3,304.3 583.4,301.7 584.5,296.6 585.7,304.7 586.8,299.2 587.9,300.6 589.0,296.5 590.2,293.4 591.3,290.3 592.4,298.3 593.6,292.9 594.7,299.3 595.8,304.3 597.0,300.1 598.1,303.7 599.2,309.6 600.4,311.0 601.5,315.9 602.6,321.3 603.8,314.7 604.9,315.2 606.4,312.1 607.9,300.8 609.4,297.8 610.5,298.4 611.7,299.3 612.8,294.4 613.9,303.4 615.1,304.0 616.2,303.0 617.3,308.5 618.5,309.0 619.6,307.7 620.7,307.3 621.9,306.2 623.0,302.2 624.5,317.0 625.2,323.7" fill="none" stroke="#a8a8c8" stroke-width="0.6" stroke-opacity="1" stroke-linejoin="round"/><polyline points="61.2,301.2 62.8,304.3 64.4,311.1 66.0,323.6 67.3,337.0 68.5,326.4 69.6,308.5 70.9,302.9 72.1,310.3 73.3,300.0 74.9,304.2 76.0,300.2 77.3,292.6 78.6,300.0 79.7,300.9 81.3,305.6 82.9,308.7 84.5,313.8 86.1,305.0 87.3,295.6 88.5,295.3 90.2,299.2 91.8,301.7 93.4,306.3 94.7,311.3 96.3,305.7 97.9,308.3 99.5,304.2 101.1,302.6 102.7,297.3 104.3,295.0 105.9,293.9 107.0,299.1 108.6,302.0 109.8,305.2 111.1,301.6 112.7,296.1 113.9,287.8 115.1,281.6 116.2,283.4 117.5,284.0 118.8,293.2 119.9,306.6 121.0,298.0 122.3,291.3 123.6,282.5 124.7,293.2 125.8,289.7 127.1,287.3 128.7,286.6 130.3,281.6 132.0,277.0 133.2,285.1 134.8,280.2 136.0,271.9 137.1,279.3 138.4,286.9 140.0,285.3 141.6,277.5 142.9,283.4 144.5,292.7 146.1,294.4 147.8,287.7 149.7,276.3 151.5,269.2 153.4,263.4 154.7,257.7 156.1,264.4 157.4,262.5 158.9,264.8 160.7,270.8 162.6,277.7 164.4,284.2 165.9,276.3 167.2,263.4 168.5,255.9 169.9,256.3 171.8,254.8 173.6,262.4 175.5,257.7 176.6,254.6 177.7,251.0 179.5,255.8 181.0,260.4 182.8,258.5 184.7,263.8 186.5,255.3 188.4,263.5 189.8,266.6 191.1,254.0 193.0,246.7 194.8,244.0 196.6,242.1 198.5,242.0 200.3,239.6 202.2,245.2 204.0,249.0 205.9,247.9 207.7,248.7 209.5,241.7 211.4,242.4 213.2,240.1 214.5,243.4 216.0,259.6 217.5,247.3 218.6,243.8 219.7,244.2 220.8,244.2 221.9,245.0 223.1,244.3 224.3,246.0 225.7,244.7 227.0,245.1 228.1,242.8 229.2,243.9 231.1,245.1 232.9,243.1 234.8,246.2 235.8,241.4 237.7,246.9 239.5,239.9 241.4,246.8 243.2,246.8 245.0,248.8 246.9,243.1 248.7,239.9 250.6,243.8 252.4,249.5 254.3,254.1 256.1,261.8 257.9,256.0 259.8,248.9 261.3,241.5 262.5,249.0 263.8,258.3 265.3,263.7 267.1,260.8 269.0,266.0 270.8,266.4 272.7,262.8 274.5,269.9 276.0,279.3 277.3,294.6 278.2,300.1 279.7,288.8 281.0,277.0 282.3,269.5 283.7,263.6 285.2,274.6 286.5,277.8 287.8,285.3 288.9,289.4 290.2,280.9 291.5,278.1 292.6,283.1 293.9,280.1 295.7,279.1 297.1,280.7 298.5,279.4 299.6,279.8 300.7,280.5 301.9,282.0 303.1,282.8 304.9,289.3 306.7,287.5 308.6,289.6 310.4,292.6 312.3,295.8 314.1,291.2 315.4,287.0 317.2,285.7 318.7,289.6 320.6,300.0 322.0,301.2 323.5,288.0 324.8,291.3 326.1,303.1 327.5,312.0 329.0,320.7 330.3,328.0 331.6,336.4 332.7,326.6 333.6,313.0 334.9,305.1 336.4,302.6 337.7,305.0 338.9,300.4 340.4,298.0 342.3,300.5 343.7,302.1 345.0,308.9 346.3,310.2 347.8,305.2 349.3,301.6 350.5,303.7 352.4,301.3 354.2,304.0 356.1,300.8 357.9,301.0 359.8,299.5 361.6,302.2 363.4,297.7 365.3,297.5 366.6,305.8 368.0,304.4 369.5,303.2 370.8,302.1 372.1,308.0 373.6,312.2 375.0,313.0 376.3,305.1 377.6,297.4 379.1,294.5 380.6,293.2 381.9,299.5 383.1,295.9 384.6,292.0 386.1,289.0 387.4,286.2 388.7,292.2 389.8,295.9 391.1,301.9 392.3,299.5 393.8,291.0 395.3,299.0 396.6,301.7 397.9,298.3 399.3,296.8 400.8,299.4 402.1,305.2 403.4,304.6 404.9,294.8 406.3,289.7 407.6,283.2 408.9,287.6 410.4,289.8 411.5,294.5 412.8,286.0 414.1,272.5 415.2,290.9 416.4,289.5 417.7,283.4 419.2,281.9 420.7,287.9 422.0,279.8 423.3,286.8 424.7,291.9 426.2,284.5 427.5,282.0 428.8,286.8 430.3,291.4 431.7,276.9 433.0,269.9 434.3,260.9 435.8,263.8 437.3,273.6 438.5,281.3 439.8,285.8 441.3,275.8 442.8,267.5 444.1,274.7 445.4,279.3 446.8,282.8 448.3,273.5 449.6,269.3 450.9,265.2 452.4,268.7 453.8,275.3 455.1,273.1 456.4,268.4 457.9,266.1 459.4,262.2 460.6,265.7 461.9,261.2 463.4,259.8 464.9,266.7 466.2,272.5 467.5,264.3 468.9,271.7 470.4,273.8 471.7,269.0 473.0,265.8 474.5,260.3 475.9,253.8 477.2,257.1 478.5,250.4 479.6,245.6 480.9,256.6 482.2,251.7 483.7,245.6 485.1,237.7 486.4,242.6 487.7,238.6 488.8,244.5 490.1,236.5 491.4,245.3 492.9,243.5 494.3,243.2 495.6,238.5 496.9,235.9 498.4,246.5 499.5,250.1 500.8,246.9 502.1,251.6 503.5,244.4 505.0,251.4 506.3,248.4 507.6,252.8 509.0,249.3 510.5,243.9 511.8,241.8 513.1,247.5 514.6,251.1 516.0,246.9 517.3,252.7 518.6,243.5 520.1,242.2 521.6,239.6 522.9,244.1 524.2,236.3 525.6,233.7 527.1,249.6 528.4,243.6 529.7,238.8 531.1,242.0 532.6,239.3 533.9,240.0 535.4,237.4 536.7,243.9 538.1,250.5 539.4,252.8 540.7,258.1 542.2,262.3 543.7,263.0 545.0,264.9 546.3,258.7 547.7,259.0 549.2,263.2 550.5,267.5 551.8,268.5 552.9,266.0 554.2,255.9 555.5,247.8 556.6,253.2 557.9,264.0 559.1,272.3 560.6,267.5 562.1,272.3 563.4,267.7 564.7,266.8 566.1,265.9 567.6,272.5 568.9,278.8 570.2,274.7 571.7,282.4 573.1,272.3 573.9,270.7 575.0,278.3 576.3,284.3 577.6,286.8 579.0,279.5 580.5,284.6 581.8,284.1 582.3,291.6 583.8,293.9 585.3,294.3 586.8,296.1 588.3,293.3 589.4,287.9 590.6,283.3 592.1,286.5 593.6,284.5 594.8,282.2 595.8,287.8 597.3,287.8 598.9,290.3 600.4,296.1 601.4,304.4 602.6,309.6 604.1,309.8 605.6,310.8 606.4,303.4 607.1,299.5 608.4,287.5 609.4,280.6 610.5,283.5 611.7,286.9 612.9,290.6 613.9,289.2 615.0,295.2 616.2,297.1 617.4,296.6 618.5,299.7 619.5,303.4 620.7,306.1 621.9,300.7 623.0,302.6 624.0,305.9 625.2,309.7 626.0,312.4" fill="none" stroke="#ff0000" stroke-width="0.9" stroke-opacity="1" stroke-linejoin="round"/><polyline points="61.2,298.2 62.8,299.8 65.2,303.8 66.8,307.8 68.5,310.2 70.9,309.4 73.3,308.3 75.7,306.2 77.3,304.1 78.9,303.0 80.5,304.6 82.1,305.7 84.5,306.7 86.1,307.0 87.7,305.1 89.4,302.2 90.5,300.9 92.1,303.5 94.2,305.1 96.6,306.7 99.0,307.0 101.1,305.4 103.0,303.5 104.6,301.9 106.2,303.5 107.8,304.1 109.4,303.0 111.1,305.1 112.7,301.4 114.3,297.4 115.9,295.4 117.8,294.2 119.1,295.8 120.7,300.6 122.3,298.7 123.9,300.6 125.5,297.7 127.9,295.0 130.3,291.7 132.8,289.0 135.2,290.1 136.8,288.5 139.2,289.3 141.6,287.4 144.0,289.0 146.4,290.6 148.8,288.4 151.5,284.7 154.3,281.0 157.0,278.3 159.8,277.3 162.6,278.3 164.4,281.0 166.3,276.4 169.0,273.7 171.8,273.3 174.5,272.7 177.3,270.9 180.1,270.9 182.8,270.3 185.6,270.5 188.4,270.0 191.1,268.1 193.9,265.4 196.6,263.5 199.4,261.7 201.2,260.8 203.1,263.5 204.9,264.1 207.7,262.6 210.5,261.7 213.2,259.3 215.1,258.6 216.9,262.6 219.7,262.2 222.4,261.1 225.2,260.8 228.0,258.6 230.7,259.9 233.5,259.3 234.0,259.3 236.8,259.9 239.5,258.6 242.3,259.9 245.0,259.3 247.8,258.6 250.2,257.5 252.4,259.3 254.3,262.6 256.1,264.5 258.9,264.1 261.3,262.6 263.5,264.5 266.2,266.7 268.1,269.1 269.9,271.5 271.8,271.8 273.6,270.9 275.4,272.7 277.3,279.2 279.1,285.6 281.0,282.9 282.8,281.0 284.6,277.3 286.5,278.3 288.3,281.0 290.2,283.8 292.0,284.7 294.8,284.7 297.5,284.3 300.3,284.3 302.5,283.8 304.9,286.6 307.7,289.3 310.4,289.3 313.2,289.9 315.0,288.4 316.9,286.6 318.7,287.5 320.6,292.1 322.4,294.3 323.8,291.4 325.7,295.1 327.5,299.7 329.4,303.4 331.2,307.1 333.0,309.9 334.9,308.6 336.7,307.1 338.6,305.2 340.4,303.4 342.3,301.6 344.1,303.4 345.9,305.2 347.8,304.3 349.6,304.9 351.5,303.4 353.3,303.0 355.1,303.4 357.0,301.6 358.8,301.2 360.7,300.1 362.5,300.6 364.4,299.7 366.2,301.6 368.0,303.4 369.9,303.8 371.7,303.4 373.6,304.9 375.4,307.1 377.2,305.2 379.1,302.5 380.9,301.6 382.8,301.2 384.6,299.7 386.5,299.4 388.3,298.3 390.1,299.7 392.0,301.2 393.8,298.3 395.7,299.7 397.5,299.4 399.3,300.6 401.2,301.2 403.0,303.4 404.9,300.6 406.7,298.8 408.6,297.0 410.4,296.0 412.8,294.4 415.5,295.4 418.3,292.6 421.0,290.8 423.8,291.7 425.7,294.4 428.4,291.7 431.2,290.8 433.9,285.2 435.8,281.6 437.6,282.5 439.5,283.4 441.3,281.6 443.1,282.5 445.9,284.3 448.7,281.6 451.4,280.1 454.2,278.8 457.0,277.9 459.7,276.0 462.5,274.2 465.2,276.0 468.0,274.2 470.8,273.3 473.5,272.3 476.3,269.6 479.1,267.7 480.9,268.7 482.7,265.9 485.5,264.1 488.3,261.7 491.0,260.4 493.8,260.9 496.6,259.5 498.8,259.1 500.8,259.8 503.5,260.9 505.4,262.2 507.2,260.9 509.0,260.4 511.8,260.4 514.6,259.5 516.4,260.4 518.3,259.1 521.0,258.5 523.8,258.5 525.6,256.7 527.5,258.5 530.2,257.2 533.0,256.1 535.8,255.8 537.6,257.6 539.4,259.5 542.2,261.7 545.0,264.1 547.7,265.3 549.6,265.9 551.4,268.7 553.2,269.6 555.1,267.7 556.9,270.1 558.8,274.2 560.6,277.0 563.4,276.0 566.1,274.2 568.9,277.0 571.7,279.7 573.5,277.0 575.3,281.6 577.2,279.7 579.0,281.6 581.8,284.3 582.3,283.7 584.5,286.8 586.8,289.0 589.0,290.5 590.6,288.3 592.1,286.8 593.6,285.2 595.1,286.0 596.6,287.5 598.1,288.3 599.6,289.0 601.1,291.3 602.6,294.3 604.1,296.6 605.6,298.1 607.1,296.6 608.7,292.8 610.2,288.3 611.7,289.0 613.2,289.8 614.7,289.8 616.2,292.0 617.7,294.3 619.2,296.6 620.7,298.1 622.2,295.8 623.7,297.3 625.2,299.6 627.1,301.8" fill="none" stroke="#000" stroke-width="1.3" stroke-opacity="1" stroke-linejoin="round"/><line x1="61.5" y1="193" x2="61.5" y2="356.5" stroke="#3a3a3a" stroke-width="1"/><line x1="61.5" y1="356.5" x2="633.5" y2="356.5" stroke="#3a3a3a" stroke-width="1"/><line x1="633.5" y1="193" x2="633.5" y2="356.5" stroke="#8a8a8a" stroke-width="1.2"/><line x1="54.2" y1="193.5" x2="61.5" y2="193.5" stroke="#3a3a3a" stroke-width="1"/><text transform="translate(48.00,197.20) scale(1.0,1.06)" font-size="11.5" text-anchor="end" fill="#111">40</text><line x1="54.2" y1="223.5" x2="61.5" y2="223.5" stroke="#3a3a3a" stroke-width="1"/><text transform="translate(48.00,226.90) scale(1.0,1.06)" font-size="11.5" text-anchor="end" fill="#111">30</text><line x1="54.2" y1="252.5" x2="61.5" y2="252.5" stroke="#3a3a3a" stroke-width="1"/><text transform="translate(48.00,256.60) scale(1.0,1.06)" font-size="11.5" text-anchor="end" fill="#111">20</text><line x1="54.2" y1="282.5" x2="61.5" y2="282.5" stroke="#3a3a3a" stroke-width="1"/><text transform="translate(48.00,286.30) scale(1.0,1.06)" font-size="11.5" text-anchor="end" fill="#111">10</text><line x1="54.2" y1="312.5" x2="61.5" y2="312.5" stroke="#3a3a3a" stroke-width="1"/><text transform="translate(48.00,316.00) scale(1.0,1.06)" font-size="11.5" text-anchor="end" fill="#111">0</text><line x1="54.2" y1="341.5" x2="61.5" y2="341.5" stroke="#3a3a3a" stroke-width="1"/><text transform="translate(48.00,345.70) scale(1.0,1.06)" font-size="11.5" text-anchor="end" fill="#111">-10</text><line x1="61.5" y1="353.6" x2="61.5" y2="359.9" stroke="#3a3a3a" stroke-width="1"/><line x1="85.5" y1="353.6" x2="85.5" y2="359.9" stroke="#3a3a3a" stroke-width="1"/><line x1="107.5" y1="353.6" x2="107.5" y2="359.9" stroke="#3a3a3a" stroke-width="1"/><line x1="131.5" y1="353.6" x2="131.5" y2="359.9" stroke="#3a3a3a" stroke-width="1"/><line x1="155.5" y1="353.6" x2="155.5" y2="359.9" stroke="#3a3a3a" stroke-width="1"/><line x1="179.5" y1="353.6" x2="179.5" y2="359.9" stroke="#3a3a3a" stroke-width="1"/><line x1="202.5" y1="353.6" x2="202.5" y2="359.9" stroke="#3a3a3a" stroke-width="1"/><line x1="227.5" y1="353.6" x2="227.5" y2="359.9" stroke="#3a3a3a" stroke-width="1"/><line x1="251.5" y1="353.6" x2="251.5" y2="359.9" stroke="#3a3a3a" stroke-width="1"/><line x1="274.5" y1="353.6" x2="274.5" y2="359.9" stroke="#3a3a3a" stroke-width="1"/><line x1="299.5" y1="353.6" x2="299.5" y2="359.9" stroke="#3a3a3a" stroke-width="1"/><line x1="322.5" y1="353.6" x2="322.5" y2="359.9" stroke="#3a3a3a" stroke-width="1"/><line x1="347.5" y1="353.6" x2="347.5" y2="359.9" stroke="#3a3a3a" stroke-width="1"/><line x1="371.5" y1="353.6" x2="371.5" y2="359.9" stroke="#3a3a3a" stroke-width="1"/><line x1="393.5" y1="353.6" x2="393.5" y2="359.9" stroke="#3a3a3a" stroke-width="1"/><line x1="417.5" y1="353.6" x2="417.5" y2="359.9" stroke="#3a3a3a" stroke-width="1"/><line x1="441.5" y1="353.6" x2="441.5" y2="359.9" stroke="#3a3a3a" stroke-width="1"/><line x1="465.5" y1="353.6" x2="465.5" y2="359.9" stroke="#3a3a3a" stroke-width="1"/><line x1="488.5" y1="353.6" x2="488.5" y2="359.9" stroke="#3a3a3a" stroke-width="1"/><line x1="513.5" y1="353.6" x2="513.5" y2="359.9" stroke="#3a3a3a" stroke-width="1"/><line x1="537.5" y1="353.6" x2="537.5" y2="359.9" stroke="#3a3a3a" stroke-width="1"/><line x1="560.5" y1="353.6" x2="560.5" y2="359.9" stroke="#3a3a3a" stroke-width="1"/><line x1="585.5" y1="353.6" x2="585.5" y2="359.9" stroke="#3a3a3a" stroke-width="1"/><line x1="608.5" y1="353.6" x2="608.5" y2="359.9" stroke="#3a3a3a" stroke-width="1"/><line x1="633.5" y1="353.6" x2="633.5" y2="359.9" stroke="#3a3a3a" stroke-width="1"/><text transform="translate(19.30,273.30) rotate(-90) scale(1.0,1.12)" font-size="14.5" text-anchor="middle" fill="#111">Temperature (°C)</text><text transform="translate(1.00,198.80)" font-size="16.5" text-anchor="start" fill="#111" font-weight="bold">b</text><text transform="translate(570.50,230.00) scale(1.0,1.15)" font-size="11.0" text-anchor="start" fill="#111">T</text><text transform="translate(578.00,234.20) scale(1.0,1.15)" font-size="8.6" text-anchor="start" fill="#111">air</text><text transform="translate(519.00,290.80) scale(1.0,1.15)" font-size="11.0" text-anchor="start" fill="#111">T</text><text transform="translate(526.00,295.40) scale(1.0,1.15)" font-size="8.6" text-anchor="start" fill="#111">soil</text><line x1="530.2" y1="283" x2="546.3" y2="263.5" stroke="#000" stroke-width="1"/><line x1="571.3" y1="230.9" x2="555.5" y2="248.4" stroke="#000" stroke-width="1"/><line x1="107.5" y1="386" x2="107.5" y2="544" stroke="#b4b2a2" stroke-width="1" stroke-dasharray="1 3.6"/><line x1="155.5" y1="386" x2="155.5" y2="544" stroke="#b4b2a2" stroke-width="1" stroke-dasharray="1 3.6"/><line x1="202.5" y1="386" x2="202.5" y2="544" stroke="#b4b2a2" stroke-width="1" stroke-dasharray="1 3.6"/><line x1="251.5" y1="386" x2="251.5" y2="544" stroke="#b4b2a2" stroke-width="1" stroke-dasharray="1 3.6"/><line x1="299.5" y1="386" x2="299.5" y2="544" stroke="#b4b2a2" stroke-width="1" stroke-dasharray="1 3.6"/><line x1="393.5" y1="386" x2="393.5" y2="544" stroke="#b4b2a2" stroke-width="1" stroke-dasharray="1 3.6"/><line x1="441.5" y1="386" x2="441.5" y2="544" stroke="#b4b2a2" stroke-width="1" stroke-dasharray="1 3.6"/><line x1="488.5" y1="386" x2="488.5" y2="544" stroke="#b4b2a2" stroke-width="1" stroke-dasharray="1 3.6"/><line x1="537.5" y1="386" x2="537.5" y2="544" stroke="#b4b2a2" stroke-width="1" stroke-dasharray="1 3.6"/><line x1="585.5" y1="386" x2="585.5" y2="544" stroke="#b4b2a2" stroke-width="1" stroke-dasharray="1 3.6"/><line x1="347.5" y1="383" x2="347.5" y2="544" stroke="#222" stroke-width="1.3" stroke-dasharray="9.6 3.4" stroke-dashoffset="2.6"/><polyline points="61.6,542.0 63.0,536.0 65.0,535.6 66.4,537.6 67.6,536.0 69.0,538.0 70.4,535.0 71.6,537.0 73.0,531.6 74.4,533.0 75.6,538.0 77.0,530.0 77.8,526.6 79.0,533.0 80.0,532.0 81.0,536.0 82.4,539.6 84.0,539.0 85.6,535.0 87.0,530.0 88.4,510.4 89.4,520.0 90.4,536.0 92.0,539.0 93.6,538.0 95.0,535.6 96.0,538.6 97.6,539.0 99.0,536.0 100.4,534.0 101.6,532.0 102.4,537.6 104.0,538.0 105.4,514.4 106.4,524.0 107.2,533.0 108.4,528.0 109.6,534.4 111.0,525.0 112.0,520.4 113.0,524.0 114.0,530.0 115.0,532.0 116.0,516.0 117.4,509.0 118.6,512.0 119.6,532.0 120.4,537.0 121.6,528.0 122.4,532.0 123.4,503.0 124.4,524.0 125.2,528.0 126.2,514.0 127.0,510.0 128.0,523.0 129.0,524.0 130.0,522.0 131.0,516.0 132.0,510.0 133.0,516.0 134.0,535.0 135.2,520.0 136.4,486.0 137.2,500.0 138.0,532.0 139.0,520.0 140.0,526.0 141.0,522.0 142.0,513.0 143.0,537.0 144.4,532.0 146.0,543.0 147.0,537.0 148.0,522.0 149.2,508.0 150.4,497.0 152.0,492.0 153.6,480.0 155.2,469.0 156.0,476.0 156.4,496.0 157.2,490.0 158.4,498.0 159.2,488.0 160.4,500.0 161.6,512.0 163.2,524.0 165.2,533.0 166.6,524.0 167.6,504.0 168.4,480.0 169.6,476.0 171.0,471.0 172.0,469.0 173.2,447.0 174.0,468.0 174.8,479.0 176.0,452.0 177.2,447.0 178.4,440.0 179.6,446.0 181.0,458.0 182.0,470.0 182.4,484.0 183.2,471.0 184.4,492.0 185.6,478.0 187.0,471.0 188.0,488.0 189.2,506.0 190.0,510.0 190.0,509.1 191.3,466.4 193.0,446.3 194.5,436.2 196.3,431.2 197.5,423.6 198.8,437.5 200.1,433.7 201.1,414.8 202.1,433.7 202.6,463.8 203.8,458.8 205.1,443.7 206.1,437.5 207.1,451.3 208.1,466.4 208.8,441.2 209.8,426.2 211.1,436.2 212.1,446.3 213.1,445.0 214.1,453.8 215.1,478.9 216.6,522.9 217.6,478.9 218.6,453.8 219.6,442.5 220.7,441.2 221.7,421.1 222.7,408.6 223.7,431.2 224.7,423.6 225.7,426.2 226.9,446.3 228.2,466.4 228.9,446.3 229.7,423.6 230.7,436.2 231.7,428.7 232.7,433.7 234.0,424.9 235.2,443.7 236.2,456.3 237.2,428.7 239.0,411.1 240.3,438.7 241.3,471.4 242.3,436.2 243.3,423.6 244.3,438.7 245.8,466.4 247.3,446.3 249.0,416.1 250.3,458.8 251.6,489.0 252.8,463.8 254.1,456.3 255.1,468.9 256.1,458.8 257.3,453.8 259.1,433.7 260.4,418.6 261.6,407.3 262.9,433.7 263.6,471.4 264.6,478.9 265.4,496.5 266.6,509.1 267.9,496.5 269.1,481.4 270.4,477.7 271.7,486.5 272.9,494.0 274.2,490.2 275.4,519.1 276.2,535.4 276.9,516.6 277.9,519.1 279.2,504.0 280.5,485.2 282.0,483.9 283.5,491.5 285.0,504.0 286.5,496.5 287.5,509.1 288.5,532.9 290.0,526.7 291.0,496.5 292.0,491.5 293.0,495.2 294.0,504.0 295.0,501.5 296.3,500.3 297.5,499.0 298.8,504.0 300.1,509.1 301.3,514.1 302.6,519.1 303.8,521.6 304.6,529.2 305.6,524.1 306.6,526.7 307.6,521.6 308.3,519.1 309.3,529.2 310.1,539.2 311.4,541.7 312.6,538.0 313.9,532.9 315.1,534.2 316.4,531.7 317.6,521.6 318.6,526.7 319.6,535.4 320.7,529.2 321.7,521.6 322.7,519.1 323.7,526.7 324.7,540.5 325.7,541.7 326.7,536.7 327.7,531.7 328.9,534.2 330.2,532.9 331.5,539.2 332.7,532.9 334.0,525.4 335.2,536.7 336.5,539.2 337.7,531.7 339.0,521.6 340.3,519.1 341.5,521.6 342.8,531.7 344.0,535.4 345.3,540.5 346.5,541.7 347.8,539.2 349.0,540.5 350.3,535.4 351.6,526.7 352.8,522.9 354.1,524.1 355.3,522.9 356.6,532.9 357.8,536.7 359.1,541.7 360.4,539.2 361.6,529.2 362.9,525.4 364.1,526.7 365.4,532.9 366.6,541.7 367.9,540.5 369.1,536.7 370.4,531.7 371.7,526.7 372.9,527.9 374.2,525.4 375.4,526.7 376.7,531.7 377.9,526.7 379.2,519.1 380.5,517.9 381.7,529.2 383.0,536.7 384.2,519.1 385.5,514.1 386.7,506.6 387.5,500.3 388.5,509.1 389.2,516.6 390.0,531.7 391.0,526.7 392.0,535.4 393.0,529.2 394.0,525.4 395.0,539.2 396.3,536.7 397.5,540.5 398.8,534.2 400.1,536.7 401.3,539.2 402.6,538.0 403.8,529.2 405.1,531.7 406.3,541.7 407.6,526.7 408.8,519.1 410.1,514.1 411.4,509.1 412.6,519.1 413.4,521.6 414.1,501.5 414.9,487.7 415.9,504.0 417.1,509.1 418.1,516.6 419.6,516.6 420.7,511.6 421.7,501.5 422.4,497.8 423.4,516.6 424.7,529.2 425.7,536.7 426.7,525.4 427.7,526.7 428.9,527.9 430.2,512.8 431.5,529.2 432.7,514.1 434.0,494.0 435.2,482.7 436.2,476.4 437.2,489.0 438.2,516.6 439.2,521.6 440.3,534.2 441.3,526.7 442.3,506.6 443.3,489.0 444.3,494.0 445.3,524.1 446.3,534.2 447.3,541.7 448.5,529.2 449.8,516.6 451.1,496.5 452.1,487.7 453.1,504.0 454.1,509.1 455.3,506.6 456.3,514.1 457.3,491.5 458.3,486.5 459.3,509.1 460.4,481.4 461.6,477.7 462.9,468.9 464.1,478.9 465.4,504.0 466.4,466.4 467.4,411.1 468.4,408.6 469.4,418.6 470.4,408.6 471.4,406.1 472.4,416.1 473.4,426.2 474.4,423.6 475.4,463.8 476.4,446.3 477.4,458.8 478.4,433.7 479.4,423.6 480.5,441.2 481.5,468.9 482.2,489.0 483.5,446.3 484.5,431.2 485.5,428.7 486.5,428.7 487.5,456.3 488.5,438.7 490.0,431.2 491.0,466.4 492.0,481.4 493.0,461.3 494.0,441.2 495.0,428.7 496.0,423.6 497.0,403.5 498.0,426.2 499.0,446.3 500.1,451.3 501.1,471.4 501.8,486.5 502.6,471.4 503.6,489.0 504.6,471.4 505.6,453.8 506.6,448.8 507.6,471.4 508.6,496.5 509.6,478.9 510.6,450.0 511.6,450.0 512.6,451.3 513.6,466.4 514.6,468.9 515.6,453.8 516.6,466.4 517.6,491.5 518.6,496.5 519.6,481.4 520.7,453.8 521.7,428.7 522.7,418.6 523.7,419.9 524.7,408.6 525.7,397.3 526.7,458.8 527.7,501.5 528.7,438.7 529.7,406.1 530.7,399.8 531.7,403.5 532.7,418.6 533.7,408.6 534.7,426.2 535.7,446.3 536.7,456.3 537.7,463.8 538.7,471.4 539.7,473.9 540.8,483.9 541.8,506.6 542.8,524.1 543.8,516.6 544.8,496.5 545.8,489.0 546.8,501.5 547.8,526.7 548.8,521.6 549.8,506.6 550.8,496.5 551.8,486.5 552.8,471.4 553.8,463.8 554.8,478.9 555.8,447.5 556.8,453.8 557.8,483.9 558.8,516.6 560.0,509.7 560.8,489.6 561.7,482.0 562.5,487.9 563.4,501.3 564.2,508.0 565.0,496.3 565.9,489.6 566.7,491.2 567.5,504.6 568.4,528.1 569.2,529.8 570.1,528.1 570.9,536.5 571.7,538.1 572.6,516.4 573.4,496.3 574.1,492.9 574.7,504.6 575.4,516.4 576.1,506.3 576.8,504.6 577.4,513.0 578.1,526.4 578.9,536.5 579.8,538.1 580.9,536.5 582.1,537.3 583.5,536.5 584.8,535.6 586.0,534.8 587.1,533.9 588.1,531.4 589.1,524.7 590.2,513.0 590.8,505.5 591.5,513.0 592.2,524.7 592.8,536.5 593.5,539.8 594.3,529.8 595.0,522.2 595.7,533.1 596.3,543.2 597.2,539.8 598.0,536.5 598.9,534.8 599.5,537.3 600.2,533.9 601.0,534.8 601.9,533.1 602.7,539.8 603.6,536.5 604.4,538.1 605.2,533.9 606.2,536.5 607.2,533.1 608.2,528.1 609.1,518.0 609.7,508.0 610.4,506.3 611.1,513.0 611.9,524.7 612.8,531.4 613.6,535.6 614.4,529.8 615.3,536.5 616.1,539.0 617.0,538.1 617.8,539.8 618.6,542.3 619.5,539.8 620.3,532.3 621.1,533.1 622.0,536.5 622.8,541.5 623.7,536.5 624.5,534.8 625.3,533.1 626.2,531.4 627.0,534.8" fill="none" stroke="#000" stroke-width="1.1" stroke-opacity="1" stroke-linejoin="round"/><line x1="61.5" y1="381.6" x2="61.5" y2="544.5" stroke="#3a3a3a" stroke-width="1"/><line x1="54" y1="544.5" x2="633.5" y2="544.5" stroke="#3a3a3a" stroke-width="1"/><line x1="633.5" y1="381.6" x2="633.5" y2="544.5" stroke="#3a3a3a" stroke-width="1"/><line x1="54.2" y1="544.5" x2="61.5" y2="544.5" stroke="#3a3a3a" stroke-width="1"/><text transform="translate(48.00,548.20) scale(1.0,1.06)" font-size="11.5" text-anchor="end" fill="#111">0.0</text><line x1="54.2" y1="517.5" x2="61.5" y2="517.5" stroke="#3a3a3a" stroke-width="1"/><text transform="translate(48.00,521.07) scale(1.0,1.06)" font-size="11.5" text-anchor="end" fill="#111">0.5</text><line x1="54.2" y1="490.5" x2="61.5" y2="490.5" stroke="#3a3a3a" stroke-width="1"/><text transform="translate(48.00,493.93) scale(1.0,1.06)" font-size="11.5" text-anchor="end" fill="#111">1.0</text><line x1="54.2" y1="462.5" x2="61.5" y2="462.5" stroke="#3a3a3a" stroke-width="1"/><text transform="translate(48.00,466.80) scale(1.0,1.06)" font-size="11.5" text-anchor="end" fill="#111">1.5</text><line x1="54.2" y1="435.5" x2="61.5" y2="435.5" stroke="#3a3a3a" stroke-width="1"/><text transform="translate(48.00,439.66) scale(1.0,1.06)" font-size="11.5" text-anchor="end" fill="#111">2.0</text><line x1="54.2" y1="408.5" x2="61.5" y2="408.5" stroke="#3a3a3a" stroke-width="1"/><text transform="translate(48.00,412.52) scale(1.0,1.06)" font-size="11.5" text-anchor="end" fill="#111">2.5</text><line x1="54.2" y1="381.5" x2="61.5" y2="381.5" stroke="#3a3a3a" stroke-width="1"/><text transform="translate(48.00,385.39) scale(1.0,1.06)" font-size="11.5" text-anchor="end" fill="#111">3.0</text><line x1="61.5" y1="541.4" x2="61.5" y2="547.7" stroke="#3a3a3a" stroke-width="1"/><line x1="85.5" y1="541.4" x2="85.5" y2="547.7" stroke="#3a3a3a" stroke-width="1"/><line x1="107.5" y1="541.4" x2="107.5" y2="547.7" stroke="#3a3a3a" stroke-width="1"/><line x1="131.5" y1="541.4" x2="131.5" y2="547.7" stroke="#3a3a3a" stroke-width="1"/><line x1="155.5" y1="541.4" x2="155.5" y2="547.7" stroke="#3a3a3a" stroke-width="1"/><line x1="179.5" y1="541.4" x2="179.5" y2="547.7" stroke="#3a3a3a" stroke-width="1"/><line x1="202.5" y1="541.4" x2="202.5" y2="547.7" stroke="#3a3a3a" stroke-width="1"/><line x1="227.5" y1="541.4" x2="227.5" y2="547.7" stroke="#3a3a3a" stroke-width="1"/><line x1="251.5" y1="541.4" x2="251.5" y2="547.7" stroke="#3a3a3a" stroke-width="1"/><line x1="274.5" y1="541.4" x2="274.5" y2="547.7" stroke="#3a3a3a" stroke-width="1"/><line x1="299.5" y1="541.4" x2="299.5" y2="547.7" stroke="#3a3a3a" stroke-width="1"/><line x1="322.5" y1="541.4" x2="322.5" y2="547.7" stroke="#3a3a3a" stroke-width="1"/><line x1="347.5" y1="541.4" x2="347.5" y2="547.7" stroke="#3a3a3a" stroke-width="1"/><line x1="371.5" y1="541.4" x2="371.5" y2="547.7" stroke="#3a3a3a" stroke-width="1"/><line x1="393.5" y1="541.4" x2="393.5" y2="547.7" stroke="#3a3a3a" stroke-width="1"/><line x1="417.5" y1="541.4" x2="417.5" y2="547.7" stroke="#3a3a3a" stroke-width="1"/><line x1="441.5" y1="541.4" x2="441.5" y2="547.7" stroke="#3a3a3a" stroke-width="1"/><line x1="465.5" y1="541.4" x2="465.5" y2="547.7" stroke="#3a3a3a" stroke-width="1"/><line x1="488.5" y1="541.4" x2="488.5" y2="547.7" stroke="#3a3a3a" stroke-width="1"/><line x1="513.5" y1="541.4" x2="513.5" y2="547.7" stroke="#3a3a3a" stroke-width="1"/><line x1="537.5" y1="541.4" x2="537.5" y2="547.7" stroke="#3a3a3a" stroke-width="1"/><line x1="560.5" y1="541.4" x2="560.5" y2="547.7" stroke="#3a3a3a" stroke-width="1"/><line x1="585.5" y1="541.4" x2="585.5" y2="547.7" stroke="#3a3a3a" stroke-width="1"/><line x1="608.5" y1="541.4" x2="608.5" y2="547.7" stroke="#3a3a3a" stroke-width="1"/><line x1="633.5" y1="541.4" x2="633.5" y2="547.7" stroke="#3a3a3a" stroke-width="1"/><text transform="translate(61.00,568.20) scale(1.0,1.06)" font-size="14.4" text-anchor="middle" fill="#111">Jan</text><text transform="translate(107.24,568.20) scale(1.0,1.06)" font-size="14.4" text-anchor="middle" fill="#111">Mar</text><text transform="translate(155.04,568.20) scale(1.0,1.06)" font-size="14.4" text-anchor="middle" fill="#111">May</text><text transform="translate(202.85,568.20) scale(1.0,1.06)" font-size="14.4" text-anchor="middle" fill="#111">Jul</text><text transform="translate(251.44,568.20) scale(1.0,1.06)" font-size="14.4" text-anchor="middle" fill="#111">Sep</text><text transform="translate(299.24,568.20) scale(1.0,1.06)" font-size="14.4" text-anchor="middle" fill="#111">Nov</text><text transform="translate(347.05,568.20) scale(1.0,1.06)" font-size="14.4" text-anchor="middle" fill="#111">Jan</text><text transform="translate(393.29,568.20) scale(1.0,1.06)" font-size="14.4" text-anchor="middle" fill="#111">Mar</text><text transform="translate(441.09,568.20) scale(1.0,1.06)" font-size="14.4" text-anchor="middle" fill="#111">May</text><text transform="translate(488.90,568.20) scale(1.0,1.06)" font-size="14.4" text-anchor="middle" fill="#111">Jul</text><text transform="translate(537.49,568.20) scale(1.0,1.06)" font-size="14.4" text-anchor="middle" fill="#111">Sep</text><text transform="translate(585.29,568.20) scale(1.0,1.06)" font-size="14.4" text-anchor="middle" fill="#111">Nov</text><text transform="translate(633.10,568.20) scale(1.0,1.06)" font-size="14.4" text-anchor="middle" fill="#111">Jan</text><text transform="translate(16.20,464.20) rotate(-90) scale(1.0,1.12)" font-size="14.5" text-anchor="middle" fill="#111">VPD (kPa)</text><text transform="translate(1.20,384.80)" font-size="16.5" text-anchor="start" fill="#111" font-weight="bold">c</text><text x="347.6" y="596" font-size="14" font-weight="bold" text-anchor="middle" fill="#111">Month</text></svg></body></html>
